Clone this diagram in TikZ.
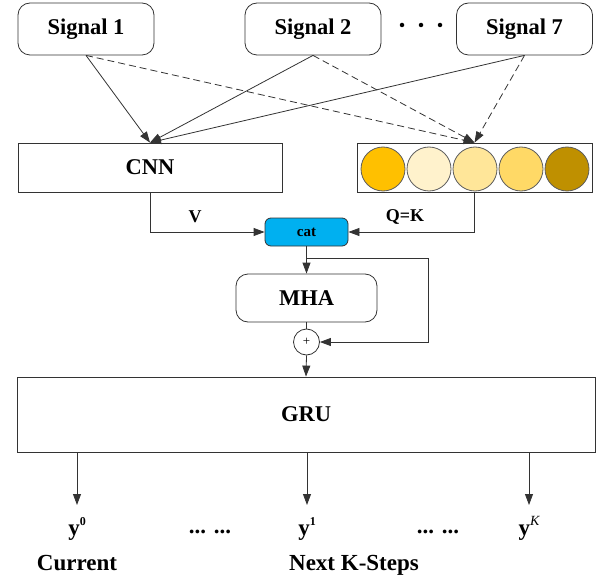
\documentclass[tikz,border=0pt]{standalone}
\usepackage{fontspec}
\setmainfont{Liberation Serif}
\usetikzlibrary{arrows.meta,calc}
\definecolor{catblue}{HTML}{00B0F0}
\definecolor{cA}{HTML}{FFC000}
\definecolor{cB}{HTML}{FFF2CC}
\definecolor{cC}{HTML}{FFE699}
\definecolor{cD}{HTML}{FFD966}
\definecolor{cE}{HTML}{BF9000}
\definecolor{edge}{HTML}{333333}
\begin{document}
\begin{tikzpicture}[x=1pt,y=-1pt,line width=0.8pt,draw=edge,
  arr/.style={-{Triangle[length=11pt,width=8pt]}},
  dsh/.style={dash pattern=on 7pt off 4pt},
  bigfont/.style={font=\fontsize{22.5}{24}\selectfont\bfseries},
  sig/.style={draw=edge,rounded corners=12pt,minimum width=136pt,minimum height=52pt,inner sep=0pt,bigfont},
  blk/.style={draw=edge,minimum height=49pt,inner sep=0pt,bigfont},
  ball/.style={circle,draw=edge!80,minimum size=44pt,inner sep=0pt},
  lbl/.style={font=\fontsize{18}{20}\selectfont\bfseries},
  outl/.style={font=\fontsize{23}{25}\selectfont\bfseries,anchor=base,inner sep=0pt}]
\useasboundingbox (0,0) rectangle (601,577);
% signals
\node[sig] (s1) at (86,29) {Signal 1};
\node[sig] (s2) at (313,29) {Signal 2};
\node[sig] (s7) at (524.5,29) {Signal 7};
\node[circle,fill=black,inner sep=0pt,minimum size=4.5pt] (d1) at (402,25) {};
\node[circle,fill=black,inner sep=0pt,minimum size=4.5pt] (d2) at (421,25) {};
\node[circle,fill=black,inner sep=0pt,minimum size=4.5pt] (d3) at (440,25) {};
% CNN and embedding box
\node[blk,minimum width=264pt] (cnn) at (150,167.5) {CNN};
\node[draw=edge,minimum width=235pt,minimum height=49pt,inner sep=0pt] (circ) at (474.5,167.5) {};
\node[ball,fill=cA] (b1) at (383,169) {};
\node[ball,fill=cB] (b2) at (429,169) {};
\node[ball,fill=cC] (b3) at (475,169) {};
\node[ball,fill=cD] (b4) at (521,169) {};
\node[ball,fill=cE] (b5) at (567,169) {};
% signal connectors
\draw[arr] (s1.south) -- (cnn.north);
\draw[arr] (s2.south) -- (cnn.north);
\draw[arr] (s7.south) -- (cnn.north);
\draw[arr,dsh] (s1.south) -- (circ.north);
\draw[arr,dsh] (s2.south) -- (circ.north);
\draw[arr,dsh] (s7.south) -- (circ.north);
% cat, MHA
\node[draw=edge,fill=catblue,rounded corners=6pt,minimum width=83pt,minimum height=28pt,inner sep=0pt,font=\fontsize{15}{16}\selectfont\bfseries] (cat) at (306.5,232) {cat};
\draw[arr] (cnn.south) |- (cat.west);
\draw[arr] (circ.south) |- (cat.east);
\node[lbl] (vl) at (195,217) {V};
\node[lbl] (qk) at (405,217) {Q=K};
\node[draw=edge,rounded corners=12pt,minimum width=141pt,minimum height=48pt,inner sep=0pt,bigfont] (mha) at (306.5,298) {MHA};
\draw[arr] (cat.south) -- (mha.north);
\node[circle,draw=edge,minimum size=26pt,inner sep=0pt,font=\fontsize{13}{13}\selectfont] (plus) at (306.5,342) {+};
\coordinate (br) at (306.5,258);
\coordinate (bc) at (428,258);
\draw[arr] (br) -- (bc) |- (plus.east);
\draw (mha.south) -- (plus.north);
% GRU
\node[blk,minimum width=578pt,minimum height=75pt] (gru) at (306,414.5) {GRU};
\draw[arr] (plus.south) -- (gru.north);
\coordinate (t0) at (77,505);
\coordinate (t1) at (307,505);
\coordinate (tk) at (529,505);
\draw[arr] (gru.south -| t0) -- (t0);
\draw[arr] (gru.south -| t1) -- (t1);
\draw[arr] (gru.south -| tk) -- (tk);
% outputs
\node[outl] (y0) at (77,535) {y\raisebox{10pt}{\fontsize{12}{12}\selectfont 0}};
\node[outl] (y1) at (307,535) {y\raisebox{10pt}{\fontsize{12}{12}\selectfont 1}};
\node[outl] (yk) at (529,535) {y\raisebox{10pt}{\fontsize{14}{14}\selectfont\mdseries\itshape K}};
\node[outl] (e1) at (210,533) {...\hspace{8pt}...};
\node[outl] (e2) at (438,533) {...\hspace{8pt}...};
\node[outl] (cur) at (77,570) {Current};
\node[outl] (nxt) at (354,570) {Next K-Steps};
\end{tikzpicture}
\end{document}
